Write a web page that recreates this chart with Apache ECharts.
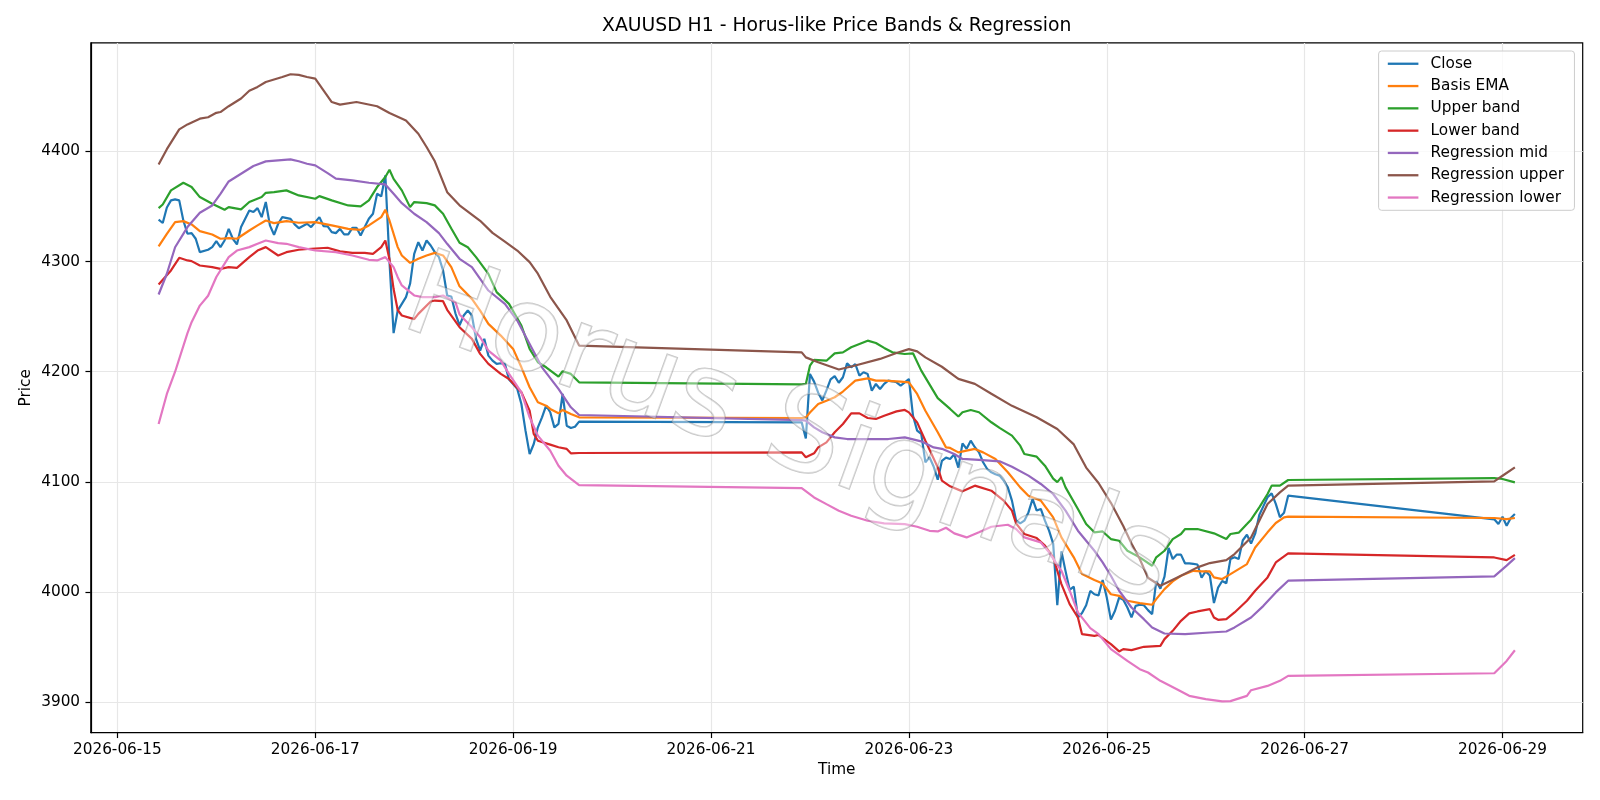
<!DOCTYPE html>
<html><head><meta charset="utf-8">
<script src="https://cdn.jsdelivr.net/npm/echarts@6/dist/echarts.min.js"></script>
<style>html,body{margin:0;padding:0;background:#fff}#chart{width:1600px;height:800px}</style>
</head><body><div id="chart"></div>
<script>
// x values are hours since 2026-06-15 00:00 (H1 bars)
const xTickHours = [0, 48, 96, 144, 192, 240, 288, 336];
const xTickLabels = ['2026-06-15','2026-06-17','2026-06-19','2026-06-21','2026-06-23','2026-06-25','2026-06-27','2026-06-29'];
const yTicks = [3900, 4000, 4100, 4200, 4300, 4400];
const seriesNames = ['Close','Basis EMA','Upper band','Lower band','Regression mid','Regression upper','Regression lower'];
const seriesColors = ['#1f77b4','#ff7f0e','#2ca02c','#d62728','#9467bd','#8c564b','#e377c2'];

const closeData = [[10,4338],[11,4335],[12,4349],[13,4355.5],[14,4356.4],[15,4355.5],[16,4337.3],[17,4325.2],[18,4325.8],[19,4320.7],[20,4308.5],[22,4310.7],[23,4313.1],[24,4318.5],[25,4313.1],[26,4319.1],[27,4329.7],[28,4320.7],[29,4315.5],[30,4331.3],[32,4346.4],[33,4344.9],[34,4348.5],[35,4340.3],[36,4354],[37,4332.8],[38,4324.3],[39,4334.3],[40,4340.3],[42,4338.8],[43,4333.7],[44,4330.3],[46,4334.3],[47,4331.3],[48,4335.8],[49,4340.3],[50,4332.2],[51,4331.9],[52,4326.7],[53,4325.8],[54,4329.7],[55,4324.6],[56,4324.6],[57,4330.6],[58,4330.6],[59,4323.7],[60,4331.3],[61,4338.8],[62,4343.4],[63,4361.5],[64,4359.1],[65,4378.2],[66,4300],[67,4235],[68,4255.5],[69,4261.6],[70,4267.7],[71,4279.8],[72,4307],[73,4317.6],[74,4310],[75,4319.1],[76,4314.6],[77,4308.5],[78,4304],[79,4291.9],[80,4269.2],[81,4268.3],[82,4253],[83,4242],[84,4251],[85,4255.5],[86,4251],[87,4229.8],[88,4219.2],[89,4229.8],[90,4214.6],[91,4210.1],[92,4207.1],[93,4207.7],[94,4207.1],[95,4193],[96,4188.9],[97,4184.4],[98,4170.7],[99,4146.5],[100,4125.3],[101,4134.4],[102,4149.5],[103,4158.6],[104,4169.2],[105,4163.2],[106,4149.5],[107,4152.6],[108,4179.8],[109,4151],[110,4148.9],[111,4150.1],[112,4154.7],
[166,4154],[167,4139.5],[168,4198],[169,4191],[170,4181],[171,4174],[172,4183],[173,4193],[174,4196],[175,4190],[176,4195],[177,4207.7],[178,4204],[179,4207],[180,4196.4],[181,4199.5],[182,4198],[183,4182.8],[184,4188.9],[185,4184.3],[186,4189],[187,4191.9],[188,4191.3],[189,4190.4],[190,4187.4],[191,4190.4],[192,4193.4],[193,4160],[194,4146.5],[195,4143.5],[196,4117.7],[197,4122.3],[198,4114],[199,4102],[200,4119],[201,4122],[202,4120.8],[203,4125],[204,4113],[205,4135],[206,4130],[207,4137.4],[208,4131.4],[209,4126.8],[210,4117.8],[211,4111.7],[212,4108.7],[213,4107],[214,4105.7],[215,4101.1],[216,4095],[217,4083],[218,4065],[219,4062.3],[220,4064.8],[221,4072.3],[222,4084.5],[223,4074],[224,4075.4],[225,4064.8],[226,4055.7],[227,4044],[228,3988],[229,4037],[230,4019],[231,4002],[232,4005],[233,3977],[234,3981],[235,3988],[236,4001],[237,3998],[238,3997],[239,4011],[240,3995],[241,3975],[242,3983],[243,3995],[244,3993],[245,3986],[246,3977],[247,3987.5],[248,3988.5],[249,3988],[250,3983.6],[251,3980],[252,4010],[253,4003],[254,4014],[255,4040],[256,4030],[257,4034],[258,4034],[259,4026],[260,4026],[261,4025.5],[262,4025],[263,4013],[264,4019],[265,4015],[266,3990],[267,4004],[268,4010],[269,4008],[270,4030],[271,4031.5],[272,4030],[273,4047],[274,4052],[275,4044],[276,4053],[277,4070],[278,4078],[279,4086],[280,4089.6],[281,4080],[282,4068],[283,4072],[284,4087.5],
[334,4066],[335,4061.7],[336,4068.4],[337,4060.2],[338,4067.2],[339,4070.8]];

const basisEmaData = [[10,4313.7],[12,4325.2],[14,4335.8],[16,4336.7],[18,4333.7],[20,4327.6],[23,4324.6],[25,4320.7],[27,4321.3],[29,4320.7],[32,4328.2],[34,4332.8],[36,4337.3],[38,4334.9],[41,4336.7],[44,4335.2],[48,4335.8],[52,4332.8],[56,4329.7],[59,4328.8],[61,4332.8],[64,4340.3],[65,4347],[66,4337.3],[68,4313.1],[69,4305.5],[71,4298.8],[73,4302.5],[75,4305.5],[77,4307.9],[79,4305.5],[81,4294.9],[83,4277.5],[86,4266.1],[88,4255.5],[90,4243.4],[93,4232.8],[96,4220.7],[98,4204],[100,4185.9],[102,4172.3],[104,4169.2],[105,4166.2],[107,4162.3],[108,4165.3],[110,4161.7],[112,4158.6],
[166,4158],[167,4158.5],[168,4163],[170,4170.7],[172,4173.7],[174,4176.8],[176,4182],[179,4191.9],[182,4194],[184,4191.9],[186,4191.9],[190,4191],[192,4190.4],[194,4179.8],[196,4164.6],[199,4145],[201,4131.3],[202,4130.8],[204,4126.8],[208,4129.9],[210,4126.8],[213,4120.8],[216,4108.7],[219,4095],[221,4087.5],[224,4083],[227,4067.8],[229,4049.6],[232,4031.5],[234,4016.3],[237,4010.9],[239,4007.8],[241,3998],[243,3996.6],[245,3992.1],[248,3990],[251,3988.5],[252,3993.6],[254,4002.7],[256,4009.7],[258,4014.8],[261,4019.3],[263,4018.7],[265,4018.7],[266,4013.3],[268,4011.8],[270,4016.3],[274,4025.4],[276,4040.5],[279,4054.2],[281,4062.7],[283,4067.8],[284,4068.4],
[334,4067.2],[337,4066.2],[339,4067.2]];

const upperBandData = [[10,4348.5],[11,4351.8],[13,4364.6],[16,4371.5],[18,4367.6],[20,4358.5],[23,4352.5],[26,4347],[27,4349.4],[30,4347.3],[32,4354],[35,4358.5],[36,4362.4],[38,4363],[41,4364.6],[44,4360],[48,4357],[49,4359.4],[52,4355.5],[56,4350.9],[59,4350],[61,4355.5],[63,4367.6],[65,4376.7],[66,4383.3],[67,4375],[69,4364.6],[71,4349.4],[72,4354],[75,4353],[77,4351],[79,4343.4],[81,4330],[83,4317],[85,4313],[87,4304],[90,4288.8],[92,4272.2],[95,4261.6],[98,4241.9],[100,4220.7],[102,4208.6],[104,4204],[107,4195.6],[108,4200.4],[110,4198],[112,4190.4],
[166,4188.5],[167,4188.9],[168,4205.5],[169,4210.7],[172,4210],[174,4216.7],[176,4217.6],[178,4222.2],[180,4225.2],[182,4228.2],[184,4226.1],[186,4221.6],[188,4217.6],[191,4216.1],[193,4216.7],[195,4201],[199,4176],[202,4166.2],[204,4159.3],[205,4163.2],[207,4165.3],[209,4163.2],[212,4154.1],[214,4149],[217,4142],[219,4132.9],[220,4125.3],[223,4122.9],[225,4114.7],[227,4103],[228,4099.8],[229,4104.3],[230,4095],[233,4075.4],[235,4061.7],[237,4054.2],[239,4055],[241,4048.1],[243,4046.6],[245,4037.5],[248,4031.5],[251,4023.9],[252,4031.5],[254,4037.5],[256,4048.1],[258,4052.7],[259,4057.2],[262,4057.2],[266,4053.3],[269,4048.1],[270,4052.7],[272,4053.9],[274,4061.7],[275,4065.7],[277,4076.9],[279,4089],[280,4096.6],[282,4096.6],[284,4101.7],
[334,4103.5],[336,4102.6],[339,4099.6]];

const lowerBandData = [[10,4279.2],[13,4291.9],[15,4303.4],[17,4301],[18,4300.4],[20,4296.4],[23,4294.9],[25,4293.4],[27,4294.9],[29,4294.3],[32,4304],[34,4310],[36,4313.1],[39,4305.5],[41,4308.5],[44,4310.7],[47,4311.6],[51,4312.5],[54,4309.2],[57,4307.9],[60,4307.9],[62,4307],[64,4313.1],[65,4319.1],[66,4302],[67,4275],[68,4256],[69,4251],[72,4247.7],[73,4252.5],[76,4263.7],[77,4264.6],[79,4264],[80,4256.2],[83,4240.4],[86,4229.8],[88,4216.2],[90,4207.1],[93,4198],[95,4193.4],[98,4181.3],[100,4164.7],[101,4143.5],[102,4137.4],[105,4133.8],[107,4131.4],[109,4129.9],[110,4125.9],[112,4126.2],
[166,4126.8],[167,4122.3],[169,4125.9],[170,4131.3],[172,4135.9],[174,4145],[176,4152.5],[178,4162.2],[180,4162.2],[182,4158],[184,4157.1],[186,4160.1],[189,4164],[191,4165.3],[192,4163.1],[194,4154],[196,4137.4],[199,4113.2],[200,4101.1],[202,4096],[205,4091.4],[208,4096.6],[212,4092],[215,4083],[217,4073.9],[218,4062.3],[220,4052.7],[223,4049],[225,4042.1],[227,4031.5],[229,4007.2],[231,3989],[233,3976.9],[234,3961.8],[237,3960.3],[238,3961],[241,3952.7],[243,3946.1],[244,3948.2],[246,3947.3],[249,3950.3],[253,3951.2],[254,3957.3],[256,3964.8],[258,3973.9],[260,3980.6],[262,3982.4],[265,3984.5],[266,3976.9],[267,3974.8],[269,3975.4],[271,3981.5],[274,3992.1],[276,4001.2],[279,4013.3],[281,4026.9],[284,4035.1],
[334,4031.4],[337,4029],[339,4033.8]];

const regMidData = [[10,4270.1],[12,4288.9],[14,4313],[17,4331.3],[20,4344.3],[23,4350.9],[25,4361.5],[27,4372.7],[30,4379.7],[33,4386.7],[36,4390.9],[39,4391.8],[42,4392.7],[44,4391],[46,4388.8],[48,4387.3],[51,4380.3],[53,4375.2],[57,4373.7],[61,4371.5],[65,4370],[67,4361.5],[69,4353],[72,4343.4],[75,4335.8],[78,4325.8],[80,4316.1],[83,4302.5],[86,4294.9],[88,4284.3],[90,4273.7],[94,4261.6],[97,4246.4],[100,4225.2],[103,4204],[107,4184.4],[110,4167.7],[112,4160.7],
[166,4156],[167,4155.6],[169,4149.5],[171,4145],[174,4140.4],[177,4138.9],[187,4138.9],[191,4140.4],[195,4136.8],[198,4131.3],[200,4130],[203,4125.3],[205,4120.8],[209,4119.9],[214,4118.7],[217,4113.8],[221,4105.7],[224,4098.1],[227,4089],[230,4073.9],[233,4055.7],[237,4037.5],[239,4027],[241,4014.8],[243,4001.2],[246,3986],[249,3975.4],[251,3967.9],[254,3962.4],[259,3961.8],[265,3963.3],[269,3964.2],[271,3967.9],[275,3976.9],[278,3987.5],[281,3999.7],[284,4010.3],
[334,4014.2],[337,4024],[339,4030.8]];

const regUpperData = [[10,4388],[12,4402],[15,4420],[17,4424.5],[20,4429.7],[22,4431],[24,4435],[25,4435.7],[27,4441],[30,4448],[32,4455],[34,4458.5],[36,4463],[40,4467.5],[42,4470],[44,4469.4],[46,4467.5],[48,4466],[50,4455.4],[52,4444.8],[54,4442.4],[58,4444.8],[63,4441],[66,4434.8],[70,4428],[73,4416],[75,4404],[77,4391],[80,4363],[83,4351],[88,4337],[91,4326],[94,4318],[97,4310],[100,4299.5],[102,4289],[105,4268],[109,4246.5],[112,4223.7],
[166,4217.6],[167,4213],[170,4208.6],[175,4202],[179,4205.6],[185,4211.6],[189,4217],[192,4220.5],[194,4218.5],[196,4213],[200,4204.5],[204,4193.5],[208,4189],[212,4180],[217,4169],[223,4158.6],[228,4148],[232,4134],[235,4113],[238,4099],[241,4081],[244,4060],[246,4044],[248,4030],[250,4013],[253,4005.7],[258,4014.8],[262,4022.4],[265,4026.3],[269,4029],[271,4034.5],[275,4049.6],[277,4064.8],[279,4079.9],[282,4090.5],[284,4096.6],
[334,4100.5],[336,4105.6],[339,4113.2]];

const regLowerData = [[10,4152.6],[12,4179.8],[14,4200],[17,4235],[18,4245],[20,4260],[22,4269],[24,4286],[27,4304],[29,4310],[32,4313.1],[34,4316.1],[36,4319.1],[39,4316.7],[41,4316.1],[44,4313.1],[48,4310],[53,4308.5],[57,4305.5],[61,4301.6],[63,4301],[65,4304],[67,4294.9],[68,4285.8],[69,4278.3],[72,4269.2],[74,4267.7],[77,4267.7],[79,4269.2],[82,4263.1],[83,4252],[86,4240.4],[88,4231.3],[90,4219.2],[93,4210.1],[95,4198],[98,4181.3],[100,4158.6],[102,4142],[105,4128.3],[107,4114.7],[109,4105.6],[112,4097.1],
[166,4094.4],[169,4085.9],[172,4079.8],[175,4073.8],[178,4069.3],[182,4064.7],[186,4062.3],[191,4061.7],[194,4059.3],[197,4055.6],[199,4055],[201,4058.4],[203,4053.3],[206,4049.6],[209,4054.2],[212,4059.3],[216,4061.1],[218,4057.2],[220,4049.6],[224,4045.1],[226,4036],[229,4019.3],[231,4001.2],[233,3981.5],[236,3967.2],[238,3961.8],[241,3948.2],[245,3937.6],[248,3930],[250,3927],[253,3919.4],[257,3911.8],[260,3905.8],[264,3902.8],[268,3900.8],[270,3901],[274,3905.8],[275,3910.9],[279,3914.8],[282,3919.4],[284,3923.9],
[334,3926.3],[337,3937.5],[339,3947.2]];

const allSeriesData = [closeData, basisEmaData, upperBandData, lowerBandData, regMidData, regUpperData, regLowerData];

// matplotlib-like 5% margins
let xmin = Infinity, xmax = -Infinity, ymin = Infinity, ymax = -Infinity;
allSeriesData.forEach(d => d.forEach(p => {
  xmin = Math.min(xmin, p[0]); xmax = Math.max(xmax, p[0]);
  ymin = Math.min(ymin, p[1]); ymax = Math.max(ymax, p[1]);
}));
const xpad = (xmax - xmin) * 0.05, ypad = (ymax - ymin) * 0.05;

const FONT = 'DejaVu Sans';
const TICK_FS = 15.3, LABEL_FS = 15.3, TITLE_FS = 18.8;
const G = { left: 90.8, top: 42.9, right: 17.3, bottom: 67.3 };
const plotCx = G.left + (1600 - G.left - G.right) / 2;
const plotCy = G.top + (800 - G.top - G.bottom) / 2;

const chart = echarts.init(document.getElementById('chart'), null, { renderer: 'canvas' });
chart.setOption({
  animation: false,
  backgroundColor: '#ffffff',
  grid: { left: G.left, top: G.top, right: G.right, bottom: G.bottom, containLabel: false, outerBoundsMode: 'none',
          show: true, borderColor: '#000000', borderWidth: 1.2, backgroundColor: 'transparent' },
  xAxis: {
    type: 'value', min: xmin - xpad, max: xmax + xpad,
    axisLine: { show: true, onZero: false, lineStyle: { color: '#000', width: 1.2 } },
    axisTick: { show: true, customValues: xTickHours, length: 5.35, lineStyle: { color: '#000', width: 1.2 } },
    axisLabel: { customValues: xTickHours, margin: 10, color: '#000', fontFamily: FONT, fontSize: TICK_FS,
                 formatter: v => xTickLabels[xTickHours.indexOf(Math.round(v))] || '' },
    splitLine: { show: true, lineStyle: { color: '#e7e7e7', width: 1.2 } }
  },
  yAxis: {
    type: 'value', min: ymin - ypad, max: ymax + ypad,
    axisLine: { show: true, onZero: false, lineStyle: { color: '#000', width: 1.2 } },
    axisTick: { show: true, customValues: yTicks, length: 5.35, lineStyle: { color: '#000', width: 1.2 } },
    axisLabel: { customValues: yTicks, margin: 10.7, color: '#000', fontFamily: FONT, fontSize: TICK_FS,
                 formatter: v => String(Math.round(v)) },
    splitLine: { show: true, lineStyle: { color: '#e7e7e7', width: 1.2 } }
  },
  legend: {
    orient: 'vertical', left: 1378.6, top: 51,
    data: seriesNames,
    icon: 'rect', itemWidth: 30.6, itemHeight: 2.3, itemGap: 4.8,
    padding: [4, 10.5, 4, 9.2],
    backgroundColor: 'rgba(255,255,255,0.8)', borderColor: '#cccccc', borderWidth: 1, borderRadius: 3,
    textStyle: { fontFamily: FONT, fontSize: LABEL_FS, color: '#000', lineHeight: 17.5, padding: [0, 0, 0, 7.2] }
  },
  graphic: [
    { type: 'text', x: plotCx, y: 26, z: 10,
      style: { text: 'XAUUSD H1 - Horus-like Price Bands & Regression', font: TITLE_FS + 'px "DejaVu Sans"', fill: '#000',
               textAlign: 'center', textVerticalAlign: 'middle' } },
    { type: 'text', x: plotCx, y: 770.5, z: 10,
      style: { text: 'Time', font: LABEL_FS + 'px "DejaVu Sans"', fill: '#000', textAlign: 'center', textVerticalAlign: 'middle' } },
    { type: 'text', x: 26.5, y: plotCy, rotation: Math.PI / 2, z: 10,
      style: { text: 'Price', font: LABEL_FS + 'px "DejaVu Sans"', fill: '#000', textAlign: 'center', textVerticalAlign: 'middle' } },
    { type: 'text', x: 788, y: 434, rotation: -20 * Math.PI / 180, z: 100, silent: true,
      style: { text: 'Horus Signals', font: '118px "DejaVu Sans"', fill: 'rgba(255,255,255,0.4)',
               stroke: 'rgba(110,110,110,0.4)', lineWidth: 1.6, textAlign: 'center', textVerticalAlign: 'middle' } }
  ],
  series: allSeriesData.map((d, i) => ({
    name: seriesNames[i], type: 'line', data: d, showSymbol: false, symbol: 'none',
    lineStyle: { color: seriesColors[i], width: 2.2 }, itemStyle: { color: seriesColors[i] },
    emphasis: { disabled: true }, z: 2 + i * 0.01
  }))
});
</script></body></html>
